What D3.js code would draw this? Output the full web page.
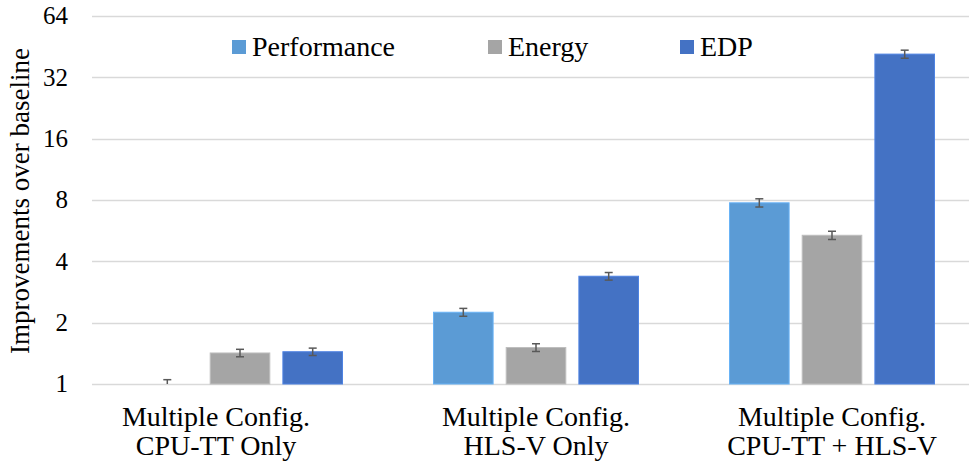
<!DOCTYPE html>
<html>
<head>
<meta charset="utf-8">
<script src="https://cdn.jsdelivr.net/npm/d3@7"></script>
<style>
  body { margin: 0; background: #fff; }
</style>
</head>
<body>
<div id="chart"></div>
<script>
// data
var groups = ["Multiple Config.|CPU-TT Only", "Multiple Config.|HLS-V Only", "Multiple Config.|CPU-TT + HLS-V"];
var seriesNames = ["Performance", "Energy", "EDP"];
var seriesColors = ["#5b9bd5", "#a5a5a5", "#4472c4"];
var performance = [1.0, 2.25, 7.75];
var energy = [1.42, 1.51, 5.37];
var edp = [1.44, 3.38, 41.6];
var perfErr = [0.05, 0.10, 0.36];
var energyErr = [0.06, 0.066, 0.25];
var edpErr = [0.06, 0.145, 1.9];
var yTicks = [1, 2, 4, 8, 16, 32, 64];

var seriesValues = [performance, energy, edp];
var seriesErrs = [perfErr, energyErr, edpErr];

var width = 969, height = 466;
var margin = {top: 16, right: 0, bottom: 82, left: 92};
var fontFam = "'Liberation Serif', 'Times New Roman', Times, serif";
// the first category label sits a bit left of its bars in the original
var labelShift = [-24, 0, 0];

var svg = d3.select("#chart")
  .append("svg")
    .attr("width", width)
    .attr("height", height)
    .attr("font-family", fontFam);

var x0 = d3.scaleBand()
    .domain(groups)
    .range([margin.left, 980]);

var x1 = d3.scaleBand()
    .domain(seriesNames)
    .range([0, 205])
    .paddingInner(0.18);

var y = d3.scaleLog()
    .base(2)
    .domain([1, 64])
    .range([height - margin.bottom, margin.top]);

// gridlines
svg.append("g")
  .selectAll("line")
  .data(yTicks)
  .enter()
  .append("line")
    .attr("x1", margin.left)
    .attr("x2", width)
    .attr("y1", function(d) { return Math.round(y(d)) + 0.5; })
    .attr("y2", function(d) { return Math.round(y(d)) + 0.5; })
    .attr("stroke", "#d9d9d9")
    .attr("stroke-width", 1.5);

// tick labels
svg.append("g")
  .selectAll("text")
  .data(yTicks)
  .enter()
  .append("text")
    .attr("x", 68)
    .attr("y", function(d) { return y(d); })
    .attr("dy", "0.33em")
    .attr("text-anchor", "end")
    .attr("font-family", fontFam)
    .style("font-size", "25px")
    .text(function(d) { return d; });

// axis title
svg.append("text")
  .attr("transform", "translate(29,201) rotate(-90)")
  .attr("text-anchor", "middle")
  .attr("font-family", fontFam)
  .style("font-size", "27px")
  .text("Improvements over baseline");

// bars
var rows = [];
groups.forEach(function(g, gi) {
  seriesNames.forEach(function(s, si) {
    rows.push({group: g, series: s, si: si, value: seriesValues[si][gi], err: seriesErrs[si][gi]});
  });
});

function barX(d) {
  return x0(d.group) + (x0.bandwidth() - 205) / 2 + x1(d.series);
}

svg.append("g")
  .selectAll("rect")
  .data(rows)
  .enter()
  .append("rect")
    .attr("x", barX)
    .attr("y", function(d) { return y(d.value); })
    .attr("width", x1.bandwidth())
    .attr("height", function(d) { return y(1) - y(d.value); })
    .attr("fill", function(d) { return seriesColors[d.si]; })
    .attr("stroke", function(d) { return d3.color(seriesColors[d.si]).brighter(0.4); })
    .attr("stroke-width", 1);

// error bars
var eb = svg.append("g")
  .selectAll("g")
  .data(rows)
  .enter()
  .append("g")
    .attr("stroke", "#595959")
    .attr("stroke-width", 1.5);

eb.append("line")
  .attr("x1", function(d) { return barX(d) + x1.bandwidth() / 2; })
  .attr("x2", function(d) { return barX(d) + x1.bandwidth() / 2; })
  .attr("y1", function(d) { return y(d.value + d.err); })
  .attr("y2", function(d) { return Math.min(y(1), y(Math.max(1, d.value - d.err))); });

eb.append("line")
  .attr("x1", function(d) { return barX(d) + x1.bandwidth() / 2 - 4; })
  .attr("x2", function(d) { return barX(d) + x1.bandwidth() / 2 + 4; })
  .attr("y1", function(d) { return y(d.value + d.err); })
  .attr("y2", function(d) { return y(d.value + d.err); });

eb.filter(function(d) { return d.value - d.err > 1; })
  .append("line")
  .attr("x1", function(d) { return barX(d) + x1.bandwidth() / 2 - 4; })
  .attr("x2", function(d) { return barX(d) + x1.bandwidth() / 2 + 4; })
  .attr("y1", function(d) { return y(d.value - d.err); })
  .attr("y2", function(d) { return y(d.value - d.err); });

// category labels
function labelX(d, i) { return x0(d) + x0.bandwidth() / 2 + labelShift[i]; }

var cat = svg.append("g")
  .selectAll("text")
  .data(groups)
  .enter()
  .append("text")
    .attr("x", labelX)
    .attr("y", 426)
    .attr("text-anchor", "middle")
    .attr("font-family", fontFam)
    .style("font-size", "28px");

cat.append("tspan")
  .attr("x", labelX)
  .text(function(d) { return d.split("|")[0]; });
cat.append("tspan")
  .attr("x", labelX)
  .attr("dy", 29)
  .text(function(d) { return d.split("|")[1]; });

// legend
var legendX = [232, 488, 680];
var lg = svg.append("g")
  .selectAll("g")
  .data(seriesNames)
  .enter()
  .append("g")
    .attr("transform", function(d, i) { return "translate(" + legendX[i] + ",40)"; });

lg.append("rect")
  .attr("width", 14)
  .attr("height", 14)
  .attr("fill", function(d, i) { return seriesColors[i]; });

lg.append("text")
  .attr("x", 20)
  .attr("y", 7)
  .attr("dy", "0.33em")
  .attr("font-family", fontFam)
  .style("font-size", "28px")
  .text(function(d) { return d; });
</script>
</body>
</html>
